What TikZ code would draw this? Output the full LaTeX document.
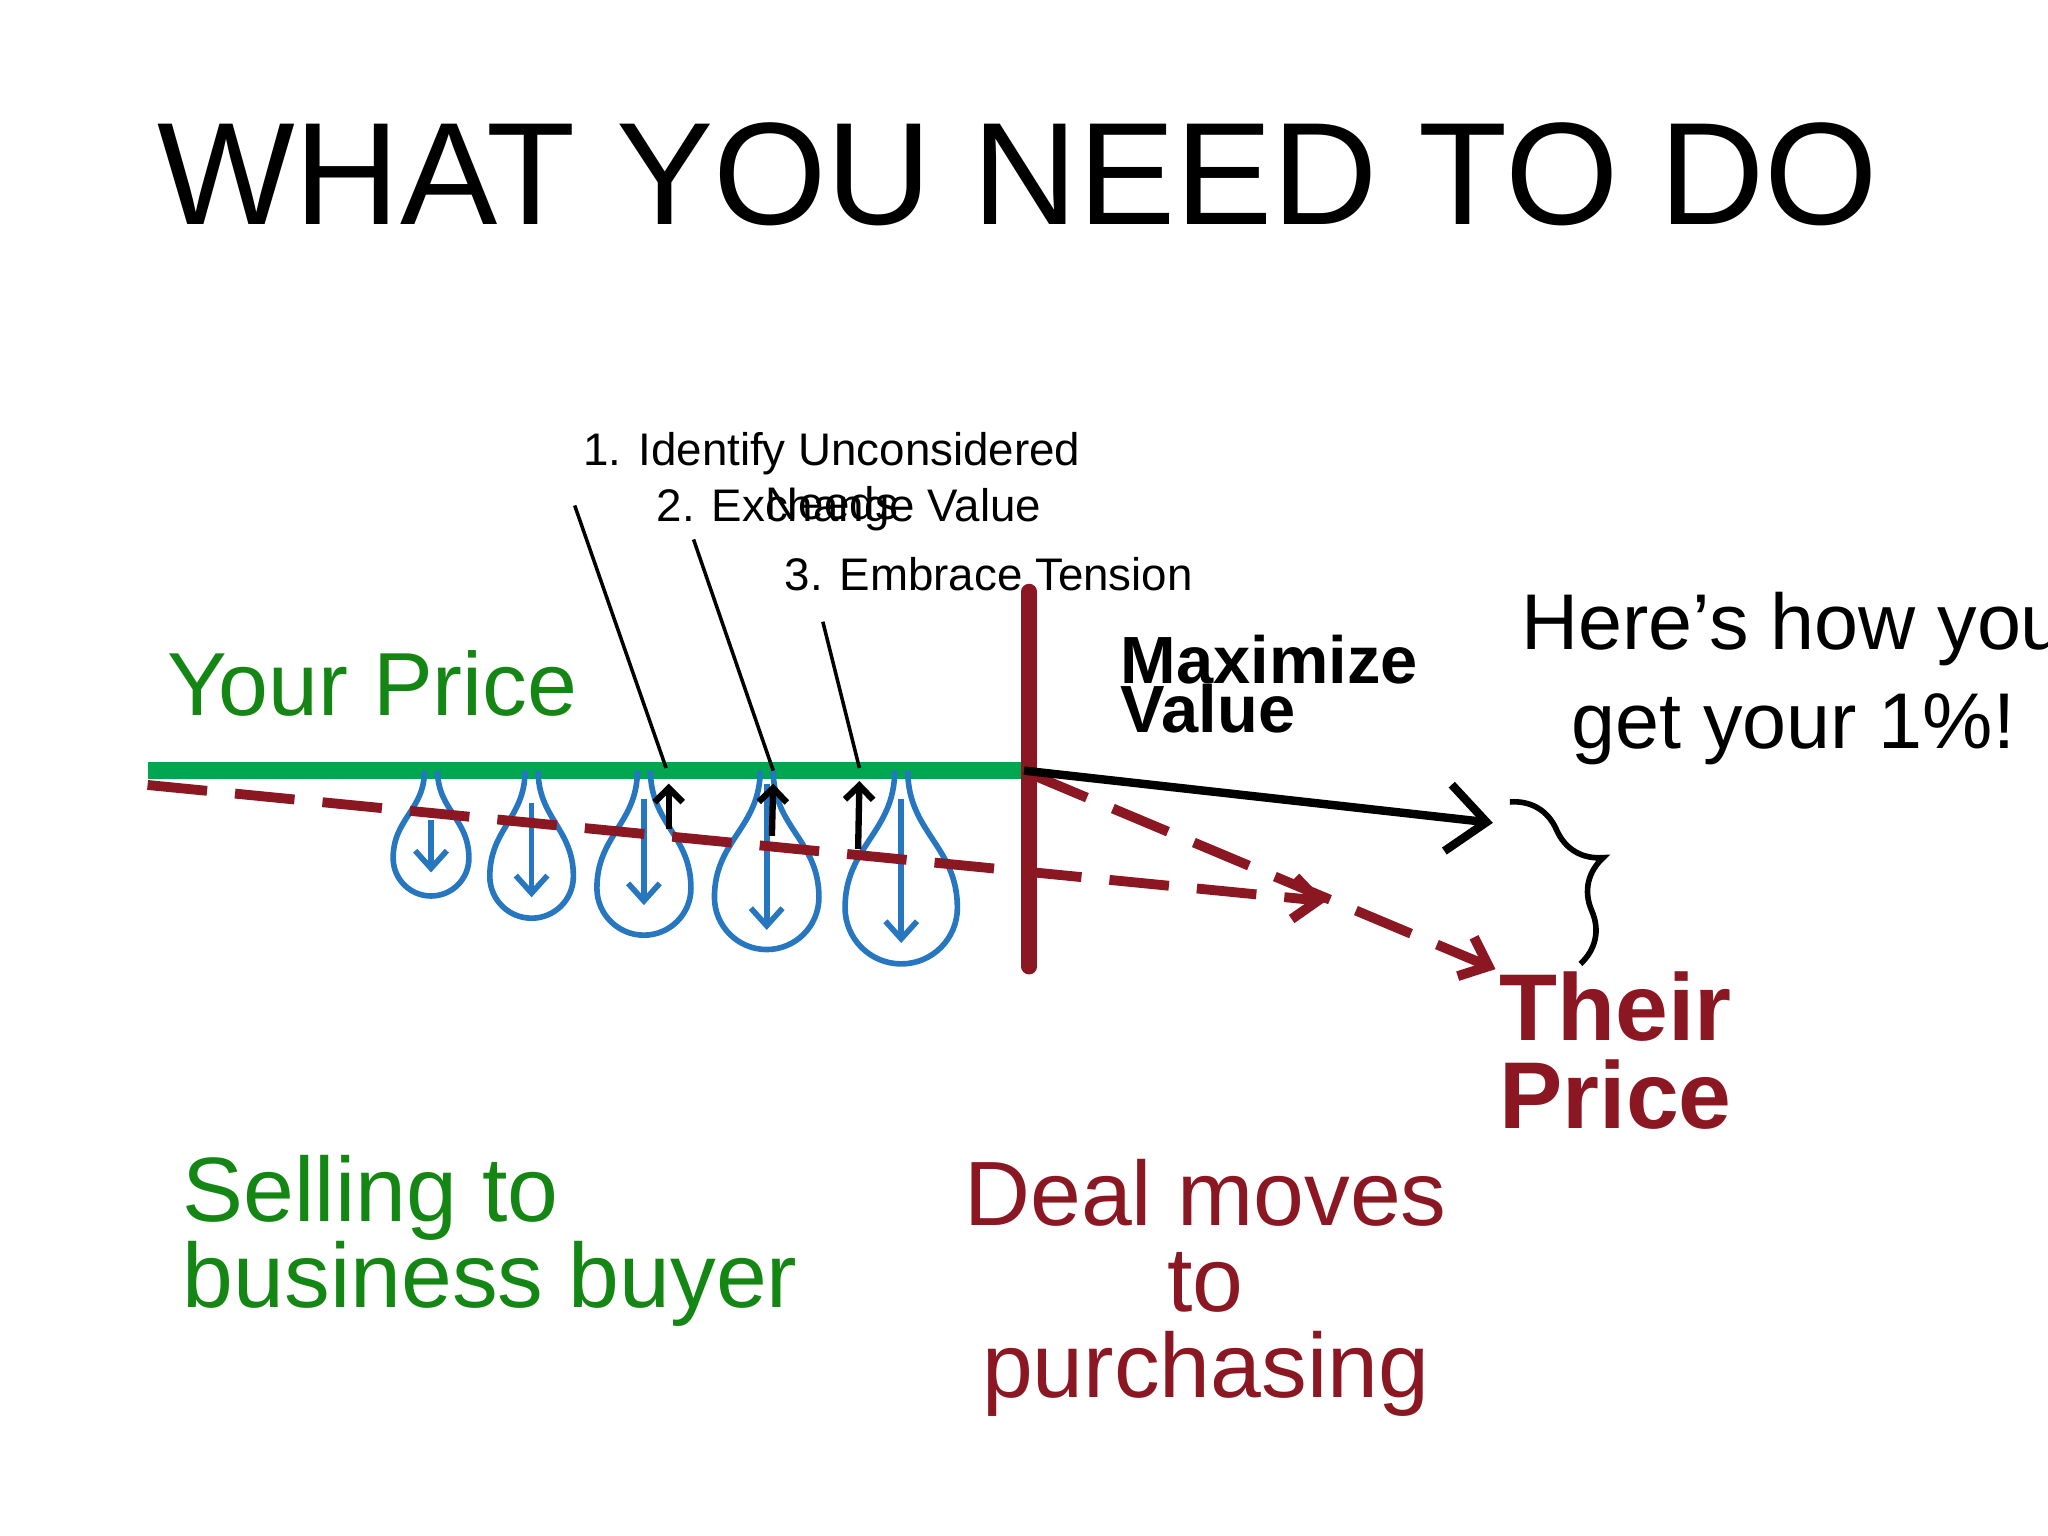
\documentclass[tikz,border=0pt]{standalone}
\usepackage{fontspec}
\setmainfont{Liberation Sans}
\usetikzlibrary{arrows.meta,decorations.pathreplacing}
\definecolor{pricegreen}{RGB}{0,166,80}
\definecolor{textgreen}{RGB}{20,134,20}
\definecolor{dealred}{RGB}{139,23,35}
\definecolor{dropblue}{RGB}{38,118,192}

\begin{document}
\begin{tikzpicture}[x=0.01306cm, y=-0.01306cm,
  every node/.style = {inner sep=0pt, outer sep=0pt},
  stepfont/.style = {font=\fontsize{13}{15.6}\selectfont},
  bigtext/.style = {font=\fontsize{26}{24.5}\selectfont},
  drop/.style = {dropblue, line width=1.6pt},
  droparrow/.style = {dropblue, line width=1.6pt, -{Straight Barb[length=5pt,width=9pt]}},
  uparrow/.style = {black, line width=1.8pt, -{Straight Barb[length=4pt,width=8pt]}},
  dealdash/.style = {dealred, line width=2.8pt, dash pattern=on 17pt off 8pt,
    -{Straight Barb[length=7pt,width=12pt]}}]
  \useasboundingbox (0,0) rectangle (1568,1176);
  \fill[white] (0,0) rectangle (1568,1176);

  \node (title) [anchor=base, font=\fontsize{41.5}{45}\selectfont] at (779,172) {WHAT YOU NEED TO DO};

  \coordinate (green-l) at (113,590);
  \coordinate (green-r) at (784,590);
  \coordinate (bar-t) at (788,453);
  \coordinate (bar-b) at (788,740);
  \coordinate (dash-l) at (113,601);
  \coordinate (dash-r) at (1015,690);
  \coordinate (dash2-l) at (790,593);
  \coordinate (dash2-r) at (1145,742);
  \coordinate (max-r) at (1143,630);
  \coordinate (brace-t) at (1156,614);
  \coordinate (brace-b) at (1210,738);

  \draw[pricegreen, line width=4.8pt] (green-l) -- (green-r);

  % drops under your price
  \foreach \cx/\bot/\hw/\ta/\tb [count=\i] in {330/686/29/628/668, 407/703/32/615/687,
      493/716/36/612/693, 587/727/40/600/712, 690/738/43/612/722}{
    \pgfmathsetmacro\yw{\bot-\hw}
    \pgfmathsetmacro\ca{590+0.45*(\yw-590)}
    \pgfmathsetmacro\cb{\yw-0.45*(\yw-590)}
    \pgfmathsetmacro\k{0.552*\hw}
    \draw[drop] (\cx-5,590) .. controls (\cx-5,\ca) and (\cx-\hw,\cb) .. (\cx-\hw,\yw)
      .. controls (\cx-\hw,\yw+\k) and (\cx-\k,\bot) .. (\cx,\bot)
      .. controls (\cx+\k,\bot) and (\cx+\hw,\yw+\k) .. (\cx+\hw,\yw)
      .. controls (\cx+\hw,\cb) and (\cx+5,\ca) .. (\cx+5,590);
    \coordinate (drop\i-a) at (\cx,\ta);
    \coordinate (drop\i-b) at (\cx,\tb);
    \draw[droparrow] (drop\i-a) -- (drop\i-b);
  }

  \draw[dealdash] (dash-l) -- (dash-r);
  \draw[dealdash] (dash2-l) -- (dash2-r);
  \draw[dealred, line width=4.5pt, line cap=round] (bar-t) -- (bar-b);
  \draw[black, line width=2.4pt, -{Straight Barb[length=11pt,width=19pt]}] (green-r) -- (max-r);

  \node (step1) [anchor=base, align=center, stepfont] at (637,398) {1. Identify Unconsidered\\Needs};
  \node (step2) [anchor=base, stepfont] at (650,399) {2. Exchange Value};
  \node (step3) [anchor=base, stepfont] at (757,452) {3. Embrace Tension};

  \coordinate (s1a) at (440,387); \coordinate (s1b) at (510,588);
  \coordinate (s2a) at (531,413); \coordinate (s2b) at (592,590);
  \coordinate (s3a) at (630,476); \coordinate (s3b) at (658,588);
  \draw[line width=1pt] (s1a) -- (s1b);
  \draw[line width=1pt] (s2a) -- (s2b);
  \draw[line width=1pt] (s3a) -- (s3b);

  \coordinate (u1a) at (512,635); \coordinate (u1b) at (512,600);
  \coordinate (u2a) at (591,640); \coordinate (u2b) at (592,600);
  \coordinate (u3a) at (657,650); \coordinate (u3b) at (658,598);
  \draw[uparrow] (u1a) -- (u1b);
  \draw[uparrow] (u2a) -- (u2b);
  \draw[uparrow] (u3a) -- (u3b);

  \draw[black, line width=1.6pt, decorate, decoration={brace, amplitude=18pt}] (brace-t) -- (brace-b);

  \node (yourprice) [anchor=base west, text=textgreen, font=\fontsize{25.5}{28}\selectfont] at (128,548) {Your Price};
  \node (maxval) [anchor=base west, align=left, font=\bfseries\fontsize{19}{14}\selectfont] at (858,561) {Maximize\\Value};
  \node (howto) [anchor=base, align=center, font=\fontsize{22.5}{28}\selectfont] at (1373,573) {Here’s how you\\get your 1\%!};
  \node (theirprice) [anchor=base west, align=left, text=dealred, font=\bfseries\fontsize{27}{25}\selectfont] at (1148,864) {Their\\Price};
  \node (selling) [anchor=base west, align=left, text=textgreen, bigtext] at (140,1001) {Selling to\\business buyer};
  \node (deal) [anchor=base, align=center, text=dealred, bigtext] at (923,1070) {Deal moves\\to\\purchasing};
\end{tikzpicture}
\end{document}
